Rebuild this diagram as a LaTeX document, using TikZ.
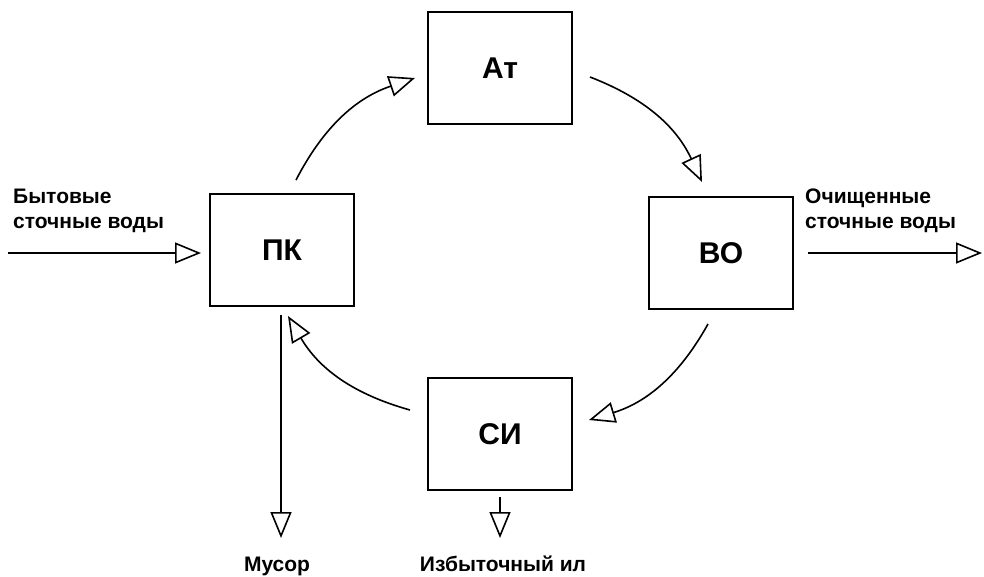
\documentclass[tikz,border=0pt]{standalone}
\usepackage{fontspec}
\setmainfont{Liberation Sans}
\usetikzlibrary{arrows.meta}
\begin{document}
\begin{tikzpicture}[x=1pt,y=-1pt,
  box/.style={draw,line width=1.6pt,minimum width=144pt,minimum height=112pt,inner sep=0pt,font=\fontsize{30}{33}\selectfont\bfseries},
  lbl/.style={font=\fontsize{21}{25}\selectfont\bfseries,align=left,inner sep=0pt},
  flow/.style={line width=1.6pt,-{Triangle[open,length=26pt,width=21pt,line width=1.6pt]}}]
\useasboundingbox (0,0) rectangle (984,576);
\node[box] (At) at (500,68) {Ат};
\node[box] (PK) at (282,250) {ПК};
\node[box] (VO) at (721,253) {ВО};
\node[box] (SI) at (500,434) {СИ};
\coordinate (inS) at (8,253);
\coordinate (inE) at (201,253);
\coordinate (outS) at (808,253);
\coordinate (outE) at (982,253);
\node[lbl,anchor=base west] (inL) at (13,228) {Бытовые\\сточные воды};
\node[lbl,anchor=base west] (outL) at (805,228) {Очищенные\\сточные воды};
\draw[flow] (inS) -- (inE);
\draw[flow] (outS) -- (outE);
\coordinate (a1) at (296,180);
\coordinate (a1e) at (415,78);
\coordinate (a2) at (590,77);
\coordinate (a2e) at (702,182);
\coordinate (a3) at (708,324);
\coordinate (a3e) at (589,420);
\coordinate (a4) at (410,410);
\coordinate (a4e) at (288,316);
\draw[flow] (a1) to[bend left=22] (a1e);
\draw[flow] (a2) to[bend left=22] (a2e);
\draw[flow] (a3) to[bend left=22] (a3e);
\draw[flow] (a4) to[bend left=22] (a4e);
\coordinate (m1) at (281,315);
\coordinate (m2) at (281,538);
\draw[flow] (m1) -- (m2);
\node[lbl,anchor=base] (mus) at (277,571) {Мусор};
\coordinate (i1) at (500,497);
\coordinate (i2) at (500,538);
\draw[flow] (i1) -- (i2);
\node[lbl,anchor=base] (izb) at (503,571) {Избыточный ил};
\end{tikzpicture}
\end{document}
